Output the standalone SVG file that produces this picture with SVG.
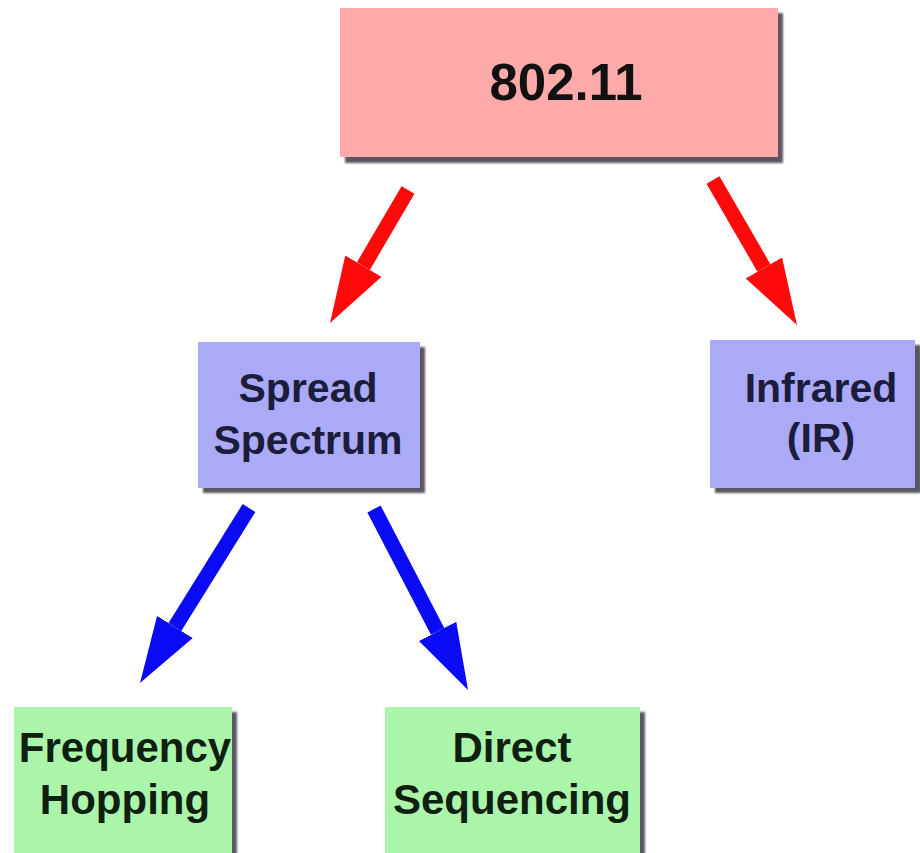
<svg xmlns="http://www.w3.org/2000/svg" width="920" height="853" viewBox="0 0 920 853">
  <defs>
    <filter id="soft" x="-10%" y="-10%" width="130%" height="130%">
      <feGaussianBlur stdDeviation="1.2"/>
    </filter>
    <marker id="headRed" markerUnits="userSpaceOnUse" viewBox="0 -22 67 44" refX="0" refY="0" markerWidth="67" markerHeight="44" orient="auto">
      <path d="M0,-21 L66,0 L0,21 Z" fill="#ff0a0a"/>
    </marker>
    <marker id="headBlue" markerUnits="userSpaceOnUse" viewBox="0 -22 67 44" refX="0" refY="0" markerWidth="67" markerHeight="44" orient="auto">
      <path d="M0,-21 L66,0 L0,21 Z" fill="#0a0af5"/>
    </marker>
  </defs>
  <style>
    .shadow { fill: #5a5560; filter: url(#soft); }
    .pink { fill: #ffaaaa; }
    .lav { fill: #aaaaf6; }
    .green { fill: #aaf5aa; }
    text { font-family: "Liberation Sans", Arial, sans-serif; font-weight: bold; text-anchor: middle; }
    .big { font-size: 51px; fill: #111111; }
    .mid { font-size: 41px; fill: #1c1c3c; }
    .low { font-size: 42px; fill: #102010; }
    .red { stroke: #ff0a0a; stroke-width: 15; fill: none; marker-end: url(#headRed); }
    .blue { stroke: #0a0af5; stroke-width: 15; fill: none; marker-end: url(#headBlue); }
  </style>
  <rect width="920" height="853" fill="#ffffff"/>

  <g id="connectors">
    <line class="red" x1="408" y1="190" x2="363.4" y2="266.1"/>
    <line class="red" x1="713" y1="180" x2="763.9" y2="267.9"/>
    <line class="blue" x1="249" y1="508" x2="174.9" y2="627"/>
    <line class="blue" x1="374" y1="509" x2="437.6" y2="631.4"/>
  </g>

  <g id="n80211">
    <rect class="shadow" x="345" y="13" width="438" height="150"/>
    <rect class="pink" x="340" y="8" width="438" height="149"/>
    <text class="big" x="566" y="100">802.11</text>
  </g>

  <g id="spread">
    <rect class="shadow" x="203" y="347" width="222" height="146"/>
    <rect class="lav" x="198" y="342" width="222" height="146"/>
    <text class="mid" x="308" y="402">Spread</text>
    <text class="mid" x="308" y="454">Spectrum</text>
  </g>

  <g id="infrared">
    <rect class="shadow" x="715" y="345" width="206" height="148"/>
    <rect class="lav" x="710" y="340" width="205" height="148"/>
    <text class="mid" x="821" y="402">Infrared</text>
    <text class="mid" x="821" y="452">(IR)</text>
  </g>

  <g id="freq">
    <rect class="shadow" x="19" y="712" width="218" height="146"/>
    <rect class="green" x="14" y="707" width="218" height="146"/>
    <text class="low" x="125" y="762">Frequency</text>
    <text class="low" x="125" y="814">Hopping</text>
  </g>

  <g id="direct">
    <rect class="shadow" x="390" y="712" width="255" height="146"/>
    <rect class="green" x="385" y="707" width="255" height="146"/>
    <text class="low" x="512" y="762">Direct</text>
    <text class="low" x="512" y="814">Sequencing</text>
  </g>
</svg>
